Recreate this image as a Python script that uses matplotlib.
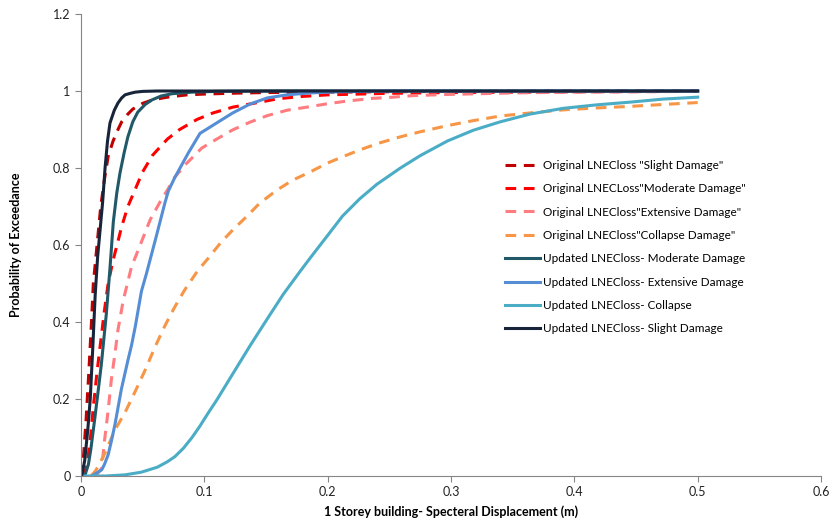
import numpy as np
import matplotlib
matplotlib.use("Agg")
import matplotlib.pyplot as plt
from matplotlib.ticker import FuncFormatter, MultipleLocator

# Original LNECloss "Slight Damage"
orig_slight_x = [0, 0.002, 0.004, 0.006, 0.0085, 0.01, 0.013, 0.016, 0.019, 0.022, 0.026, 0.03,
                 0.033, 0.038, 0.042, 0.05, 0.058, 0.07, 0.086, 0.1, 0.12, 0.15, 0.2, 0.25, 0.3, 0.4, 0.5]
orig_slight_y = [0, 0.05, 0.14, 0.25, 0.40, 0.50, 0.60, 0.70, 0.77, 0.83, 0.87, 0.90,
                 0.92, 0.94, 0.953, 0.968, 0.977, 0.984, 0.99, 0.992, 0.994, 0.996, 0.997, 0.998, 0.999, 1.0, 1.0]

# Original LNECLoss "Moderate Damage"
orig_mod_x = [0.002, 0.005, 0.008, 0.01, 0.013, 0.016, 0.019, 0.022, 0.026, 0.03, 0.033, 0.038,
              0.044, 0.05, 0.058, 0.07, 0.08, 0.094, 0.107, 0.123, 0.145, 0.16, 0.18, 0.2, 0.25,
              0.3, 0.4, 0.5]
orig_mod_y = [0, 0.03, 0.11, 0.18, 0.27, 0.35, 0.43, 0.50, 0.56, 0.61, 0.648, 0.70,
              0.745, 0.79, 0.833, 0.875, 0.90, 0.926, 0.943, 0.958, 0.971, 0.98, 0.986, 0.99, 0.994,
              0.996, 0.998, 0.999]

# Original LNECloss "Extensive Damage"
orig_ext_x = [0.012, 0.0168, 0.019, 0.022, 0.0246, 0.0276, 0.030, 0.0343, 0.041, 0.048, 0.056, 0.0655,
              0.0705, 0.076, 0.085, 0.098, 0.110, 0.123, 0.137, 0.151, 0.167, 0.183, 0.2, 0.216,
              0.237, 0.253, 0.269, 0.297, 0.35, 0.4, 0.45, 0.5]
orig_ext_y = [0, 0.02, 0.09, 0.17, 0.25, 0.32, 0.38, 0.457, 0.544, 0.60, 0.665, 0.72,
              0.745, 0.776, 0.81, 0.852, 0.875, 0.899, 0.919, 0.936, 0.950, 0.958, 0.967, 0.974,
              0.981, 0.984, 0.988, 0.991, 0.995, 0.997, 0.998, 0.999]

# Original LNECloss "Collapse Damage"
orig_col_x = [0.008, 0.0114, 0.0138, 0.0195, 0.0276, 0.0357, 0.044, 0.052, 0.060, 0.068, 0.076, 0.084,
              0.095, 0.102, 0.113, 0.123, 0.134, 0.145, 0.159, 0.172, 0.186, 0.2, 0.212, 0.226,
              0.242, 0.259, 0.275, 0.297, 0.318, 0.340, 0.364, 0.391, 0.418, 0.445, 0.472, 0.5]
orig_col_y = [0, 0.012, 0.024, 0.06, 0.12, 0.165, 0.22, 0.275, 0.335, 0.39, 0.439, 0.483,
              0.535, 0.561, 0.605, 0.639, 0.673, 0.709, 0.743, 0.769, 0.79, 0.813, 0.829, 0.847,
              0.865, 0.881, 0.894, 0.91, 0.923, 0.935, 0.943, 0.951, 0.956, 0.96, 0.965, 0.97]

# Updated LNECloss- Moderate Damage
upd_mod_x = [0.003, 0.006, 0.008, 0.011, 0.0135, 0.0165, 0.0205, 0.0235, 0.0262, 0.029, 0.0316, 0.035,
             0.038, 0.042, 0.046, 0.052, 0.0576, 0.065, 0.074, 0.09, 0.11, 0.15, 0.2, 0.3, 0.4, 0.5]
upd_mod_y = [0, 0.03, 0.07, 0.145, 0.21, 0.29, 0.42, 0.54, 0.66, 0.735, 0.787, 0.84,
             0.881, 0.92, 0.945, 0.965, 0.977, 0.987, 0.993, 0.997, 0.999, 1, 1, 1, 1, 1]

# Updated LNECloss- Extensive Damage
upd_ext_x = [0.0087, 0.0168, 0.019, 0.022, 0.0246, 0.0276, 0.0327, 0.038, 0.041, 0.044, 0.049, 0.053,
             0.061, 0.068, 0.0708, 0.076, 0.087, 0.0965, 0.110, 0.123, 0.137, 0.151, 0.167, 0.186,
             0.21, 0.25, 0.3, 0.4, 0.5]
upd_ext_y = [0, 0.016, 0.03, 0.055, 0.09, 0.135, 0.225, 0.30, 0.34, 0.388, 0.48, 0.525,
             0.622, 0.709, 0.74, 0.775, 0.839, 0.89, 0.917, 0.943, 0.966, 0.982, 0.99, 0.995,
             0.998, 1.0, 1.0, 1.0, 1.0]

# Updated LNECloss- Collapse
upd_col_x = [0, 0.02, 0.0357, 0.049, 0.062, 0.07, 0.076, 0.083, 0.090, 0.0965, 0.103, 0.110, 0.123,
             0.137, 0.151, 0.164, 0.178, 0.186, 0.2, 0.212, 0.226, 0.240, 0.259, 0.275, 0.297, 0.318,
             0.340, 0.364, 0.391, 0.418, 0.445, 0.472, 0.5]
upd_col_y = [0, 0.0, 0.003, 0.01, 0.023, 0.037, 0.05, 0.072, 0.1, 0.13, 0.163, 0.197, 0.265,
             0.338, 0.408, 0.472, 0.533, 0.567, 0.625, 0.675, 0.72, 0.758, 0.8, 0.832, 0.87, 0.898,
             0.92, 0.94, 0.955, 0.964, 0.971, 0.979, 0.984]

# Updated LNECloss- Slight Damage
upd_slight_x = [0.0005, 0.003, 0.0055, 0.0075, 0.0095, 0.0115, 0.0135, 0.0155, 0.0175, 0.0195, 0.0215,
                0.0235, 0.027, 0.030, 0.033, 0.0357, 0.04, 0.044, 0.05, 0.062, 0.08, 0.1, 0.2, 0.3, 0.4, 0.5]
upd_slight_y = [0, 0.04, 0.12, 0.20, 0.33, 0.47, 0.57, 0.64, 0.71, 0.80, 0.87,
                0.917, 0.95, 0.969, 0.982, 0.99, 0.994, 0.997, 0.999, 1, 1, 1, 1, 1, 1, 1]

series = [
    (orig_slight_x, orig_slight_y, 'Original LNECloss "Slight Damage"', "#c00000", "--"),
    (orig_mod_x, orig_mod_y, 'Original LNECLoss"Moderate Damage"', "#ff0000", "--"),
    (orig_ext_x, orig_ext_y, 'Original LNECloss"Extensive Damage"', "#ff7c80", "--"),
    (orig_col_x, orig_col_y, 'Original LNECloss"Collapse Damage"', "#f79646", "--"),
    (upd_mod_x, upd_mod_y, "Updated LNECloss- Moderate Damage", "#215968", "-"),
    (upd_ext_x, upd_ext_y, "Updated LNECloss- Extensive Damage", "#558ed5", "-"),
    (upd_col_x, upd_col_y, "Updated LNECloss- Collapse", "#4bacc6", "-"),
    (upd_slight_x, upd_slight_y, "Updated LNECloss- Slight Damage", "#17243a", "-"),
]

plt.rcParams["font.family"] = ["Lato", "DejaVu Sans"]

fig = plt.figure(figsize=(8.3, 5.22), dpi=100)
ax = fig.add_axes([81 / 830, 46 / 522, 740 / 830, 462 / 522])

for x, y, label, color, ls in series:
    if ls == "--":
        ax.plot(x, y, color=color, lw=2.2, linestyle=(0, (3.5, 2.5)), label=label)
    else:
        ax.plot(x, y, color=color, lw=2.2, label=label)

ax.set_xlim(0, 0.6)
ax.set_ylim(0, 1.2)
ax.xaxis.set_major_locator(MultipleLocator(0.1))
ax.yaxis.set_major_locator(MultipleLocator(0.2))
fmt = FuncFormatter(lambda v, p: "%g" % round(v, 2))
ax.xaxis.set_major_formatter(fmt)
ax.yaxis.set_major_formatter(fmt)

for side in ["top", "right"]:
    ax.spines[side].set_visible(False)
for side in ["left", "bottom"]:
    ax.spines[side].set_color("#868686")
ax.tick_params(direction="out", length=4, color="#868686", labelsize=9, labelcolor="#222222")

ax.set_xlabel("1 Storey building- Specteral Displacement (m)", fontsize=9, fontweight="bold", labelpad=5)
ax.set_ylabel("Probability of Exceedance", fontsize=9, fontweight="bold", labelpad=22)

ax.legend(loc="upper left", bbox_to_anchor=((500 - 81) / 740, (476 - 155) / 462), frameon=False,
          fontsize=8.5, handlelength=3.0, handletextpad=0.25, labelspacing=1.05, borderaxespad=0)

fig.savefig("out.png", dpi=100)
